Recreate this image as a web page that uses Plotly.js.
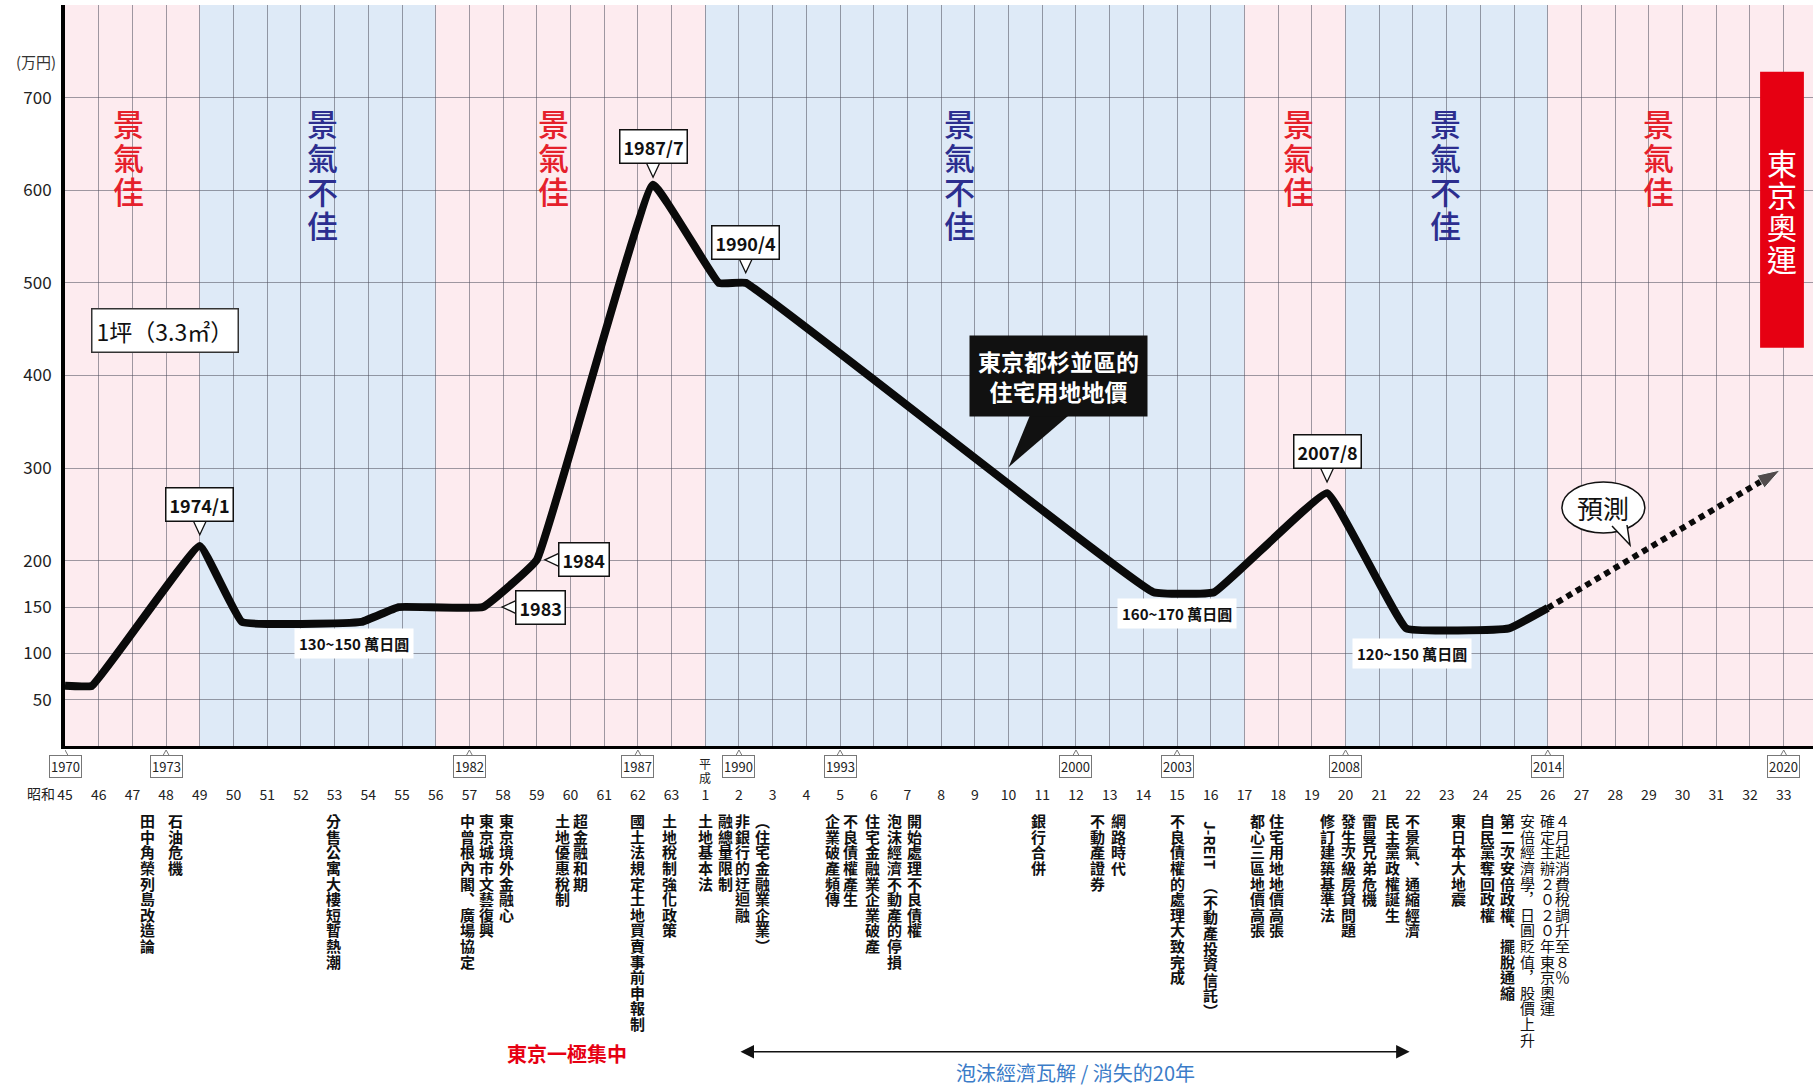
<!DOCTYPE html>
<html><head><meta charset="utf-8">
<script src="https://cdn.plot.ly/plotly-3.0.1.min.js"></script>
<style>html,body{margin:0;padding:0;background:#fff;}#chart{width:1813px;height:1088px;}</style>
</head><body><div id="chart"></div>
<script>
const CJK = '"Noto Sans CJK TC","Noto Sans CJK JP",sans-serif';
const NUM = '"Liberation Sans Narrow","Noto Sans CJK TC",sans-serif';

// x = year index (0 = 1970 / 昭和45)
const priceX = [0, 0.8, 4, 5.25, 8.8, 9.9, 12.4, 14, 17.45, 19.4, 20.2, 32.3, 34.1, 37.45, 39.8, 42.85, 44];
const priceY = [65, 65, 216, 134, 134, 150, 150, 201, 606, 500, 500, 166, 166, 273, 127, 127, 149];
const forecastX = [44, 50.9];
const forecastY = [149, 298];

const tickLabels = ['45','46','47','48','49','50','51','52','53','54','55','56','57','58','59','60','61','62','63',
  '1','2','3','4','5','6','7','8','9','10','11','12','13','14','15','16','17','18','19','20','21','22','23','24','25','26','27','28','29','30','31','32','33'];
const yTicks = [50, 100, 150, 200, 300, 400, 500, 600, 700];
const Y_MAX = 800;

const bandStart = [0, 4, 11, 19, 35, 38, 44];
const bandEnd = [4, 11, 19, 35, 38, 44, 52];
const bandGood = [true, false, true, false, true, false, true];

const moodX = [1.87, 7.63, 14.5, 26.55, 36.6, 40.95, 47.3];
const moodText = ['景氣佳', '景氣不佳', '景氣佳', '景氣不佳', '景氣佳', '景氣不佳', '景氣佳'];

const yearBoxX = [0, 3, 12, 17, 20, 23, 30, 33, 38, 44, 51];
const yearBoxText = ['1970', '1973', '1982', '1987', '1990', '1993', '2000', '2003', '2008', '2014', '2020'];

const peakLabel = ['1974/1', '1987/7', '1990/4', '2007/8'];
const peakX = [4, 17.45, 20.2, 37.45];
const peakTipY = [228, 614, 511, 285];

const sideLabel = ['1984', '1983'];
const sideX = [14.24, 12.97];
const sideY = [201, 150];

const rangeLabel = ['130~150 萬日圓', '160~170 萬日圓', '120~150 萬日圓'];
const rangeX = [8.58, 33.0, 39.97];
const rangeY = [111, 143, 100];

const eventX = [2.46, 3.29, 7.96, 11.93, 12.5, 13.1, 14.75, 15.3, 17.0, 17.95, 19.0, 19.6, 20.1, 20.7,
  22.77, 23.3, 23.95, 24.6, 25.2, 28.9, 30.65, 31.25, 33.0, 34.0, 35.4, 35.95, 37.45,
  38.1, 38.7, 39.4, 40.0, 41.35, 42.2, 42.8, 43.4, 44.0, 44.45];
const eventText = ['田中角榮列島改造論', '石油危機', '分售公寓大樓短暫熱潮', '中曾根內閣、廣場協定', '東京城市文藝復興',
  '東京境外金融心', '土地優惠稅制', '超金融和期', '國土法規定土地買賣事前申報制', '土地稅制強化政策', '土地基本法',
  '融總量限制', '非銀行的迂迴融', '（住宅金融業企業）', '企業破產頻傳', '不良債權產生', '住宅金融業企業破產',
  '泡沫經濟不動產的停損', '開始處理不良債權', '銀行合併', '不動產證券', '網路時代', '不良債權的處理大致完成',
  '（不動產投資信託）', '都心三區地價高張', '住宅用地地價高張', '修訂建築基準法', '發生次級房貸問題', '雷曼兄弟危機',
  '民主黨政權誕生', '不景氣、通縮經濟', '東日本大地震', '自民黨奪回政權', '第二次安倍政權、擺脫通縮',
  '安倍經濟學，日圓貶值，股價上升', '確定主辦２０２０年東京奧運', '４月起消費稅調升至８％'];
const eventPrefix = {23: 'J-REIT'};
const eventLight = [34, 35, 36];

const vertForm = {'（': '︵', '）': '︶', '、': '︑', '，': '︐'};

const annotations = [];
const shapes = [];
// values below the axis are placed through paper coordinates (same scale as y: 0..Y_MAX)
const yp = v => v / Y_MAX;

function vtext(x, yTop, str, pitch, font, below) {
  Array.from(str).forEach((ch, i) => {
    annotations.push({x: x, y: below ? yp(yTop) : yTop, xref: 'x', yref: below ? 'paper' : 'y', text: vertForm[ch] || ch, showarrow: false,
      xanchor: 'center', yanchor: 'middle', yshift: -(pitch / 2 + i * pitch), font: font});
  });
}

// bands
bandStart.forEach((s, i) => {
  shapes.push({type: 'rect', xref: 'x', yref: 'paper', x0: s, x1: bandEnd[i], y0: 0, y1: 1, layer: 'below',
    fillcolor: bandGood[i] ? '#fdebef' : '#deeaf7', line: {width: 0}});
});

// mood labels
moodText.forEach((t, i) => {
  const good = t === '景氣佳';
  vtext(moodX[i], 692, t, 34, {family: CJK, size: 31, color: good ? '#e5202b' : '#2c2e8f', weight: 500});
});

// Tokyo Olympics box
shapes.push({type: 'rect', xref: 'x', yref: 'y', x0: 50.3, x1: 51.6, y0: 430, y1: 728, fillcolor: '#e60012', line: {width: 0}, layer: 'above'});
vtext(50.95, 648, '東京奧運', 32, {family: CJK, size: 30, color: '#ffffff'});

// y unit
annotations.push({x: 0, y: 739, xref: 'x', yref: 'y', xanchor: 'right', yanchor: 'middle', xshift: -7, text: '(万円)', showarrow: false,
  font: {family: CJK, size: 15, color: '#333'}});
// 1坪
annotations.push({x: 2.97, y: 449, xref: 'x', yref: 'y', xanchor: 'center', yanchor: 'middle', text: '1坪（3.3㎡）', showarrow: false, bgcolor: '#fff',
  bordercolor: '#333', borderwidth: 1.5, borderpad: 4, font: {family: CJK, size: 23, color: '#111'}});

// peak callouts
peakLabel.forEach((t, i) => {
  shapes.push({type: 'path', xref: 'x', yref: 'y', xsizemode: 'pixel', ysizemode: 'pixel', xanchor: peakX[i], yanchor: peakTipY[i],
    path: 'M-7,15 L0,0 L7,15', fillcolor: '#fff', line: {color: '#111', width: 1.3}, layer: 'above'});
  annotations.push({x: peakX[i], y: peakTipY[i], xref: 'x', yref: 'y', xanchor: 'center', yanchor: 'bottom', yshift: 13, text: t, showarrow: false,
    bgcolor: '#fff', bordercolor: '#111', borderwidth: 1.5, borderpad: 3, font: {family: NUM, size: 18, color: '#111', weight: 'bold'}});
});
sideLabel.forEach((t, i) => {
  shapes.push({type: 'path', xref: 'x', yref: 'y', xsizemode: 'pixel', ysizemode: 'pixel', xanchor: sideX[i], yanchor: sideY[i],
    path: 'M15,-7 L0,0 L15,7', fillcolor: '#fff', line: {color: '#111', width: 1.3}, layer: 'above'});
  annotations.push({x: sideX[i], y: sideY[i], xref: 'x', yref: 'y', xanchor: 'left', yanchor: 'middle', xshift: 13, text: t, showarrow: false,
    bgcolor: '#fff', bordercolor: '#111', borderwidth: 1.5, borderpad: 3, font: {family: NUM, size: 18, color: '#111', weight: 'bold'}});
});

// range labels
rangeLabel.forEach((t, i) => {
  annotations.push({x: rangeX[i], y: rangeY[i], xref: 'x', yref: 'y', xanchor: 'center', yanchor: 'middle', text: t, showarrow: false, bgcolor: '#fff', borderpad: 4,
    font: {family: NUM, size: 15, color: '#111', weight: 'bold'}});
});

// black callout
shapes.push({type: 'path', xref: 'x', yref: 'y', xsizemode: 'pixel', ysizemode: 'pixel', xanchor: 28.0, yanchor: 301,
  path: 'M0,0 L23,56 L65,56 Z', fillcolor: '#111', line: {width: 0}, layer: 'above'});
annotations.push({x: 29.47, y: 400, xref: 'x', yref: 'y', xanchor: 'center', yanchor: 'middle', text: '東京都杉並區的<br>住宅用地地價', showarrow: false,
  bgcolor: '#111', borderpad: 8, font: {family: CJK, size: 23, color: '#fff', weight: 'bold'}});

// 預測 bubble
shapes.push({type: 'circle', xref: 'x', yref: 'y', x0: 44.42, x1: 46.88, y0: 230, y1: 285, fillcolor: '#fff', line: {color: '#111', width: 1.5}, layer: 'above'});
shapes.push({type: 'path', xref: 'x', yref: 'y', xsizemode: 'pixel', ysizemode: 'pixel', xanchor: 46.44, yanchor: 217,
  path: 'M-18,19 L0,0 L-3,20', fillcolor: '#fff', line: {color: '#111', width: 1.5}, layer: 'above'});
annotations.push({x: 45.65, y: 258, xref: 'x', yref: 'y', xanchor: 'center', yanchor: 'middle', text: '預測', showarrow: false, font: {family: CJK, size: 26, color: '#111'}});

// year boxes below axis
yearBoxX.forEach((x, i) => {
  shapes.push({type: 'path', xref: 'x', yref: 'paper', xsizemode: 'pixel', ysizemode: 'pixel', xanchor: x, yanchor: 0,
    path: 'M-5,-13 L0,-4 L5,-13', fillcolor: '#fff', line: {color: '#777', width: 1}, layer: 'above'});
  annotations.push({x: x, y: yp(-22), xref: 'x', yref: 'paper', xanchor: 'center', yanchor: 'middle', text: yearBoxText[i], showarrow: false, bgcolor: '#fff',
    bordercolor: '#777', borderwidth: 1, borderpad: 1, font: {family: CJK, size: 13, color: '#222'}});
});
// era labels
annotations.push({x: 0, y: yp(-50.8), xref: 'x', yref: 'paper', xanchor: 'right', yanchor: 'middle', xshift: -8, text: '昭和', showarrow: false,
  font: {family: CJK, size: 14, color: '#222'}});
vtext(19, -10.8, '平成', 14, {family: CJK, size: 12, color: '#222'}, true);

// events (vertical text)
eventText.forEach((t, i) => {
  const light = eventLight.indexOf(i) >= 0;
  const font = {family: CJK, size: 15, color: '#111', weight: light ? 'normal' : 'bold'};
  let top = -72.3;
  if (eventPrefix[i]) {
    annotations.push({x: eventX[i], y: yp(-107), xref: 'x', yref: 'paper', xanchor: 'center', yanchor: 'middle', text: eventPrefix[i], textangle: 90, showarrow: false,
      font: font});
    top = -142.5;
  }
  vtext(eventX[i], top, t, 15.6, font, true);
});

// bottom notes
annotations.push({x: 14.9, y: yp(-331.5), xref: 'x', yref: 'paper', xanchor: 'center', yanchor: 'middle', text: '東京一極集中', showarrow: false,
  font: {family: CJK, size: 20, color: '#e60012', weight: 'bold'}});
annotations.push({x: 39.9, y: yp(-330), ax: 20.0, ay: yp(-330), xref: 'x', yref: 'paper', axref: 'x', ayref: 'paper', text: '', showarrow: true,
  arrowhead: 2, startarrowhead: 2, arrowside: 'end+start', arrowsize: 1.8, startarrowsize: 1.8, arrowwidth: 1.5, arrowcolor: '#111'});
annotations.push({x: 30.0, y: yp(-353), xref: 'x', yref: 'paper', xanchor: 'center', yanchor: 'middle', text: '泡沫經濟瓦解 / 消失的20年', showarrow: false,
  font: {family: CJK, size: 20, color: '#3b7cc8'}});

const traces = [
  {x: priceX, y: priceY, type: 'scatter', mode: 'lines', line: {color: '#0a0a0a', width: 8, shape: 'spline', smoothing: 0.25}, hoverinfo: 'skip'},
  {x: forecastX, y: forecastY, type: 'scatter', mode: 'lines+markers', line: {color: '#0a0a0a', width: 6, dash: '6px,5px'},
    marker: {symbol: 'arrow', angleref: 'previous', size: [0, 24], color: '#0a0a0a'}, hoverinfo: 'skip'}
];

const layout = {
  width: 1813, height: 1088,
  margin: {l: 65, r: 0, t: 5, b: 342},
  paper_bgcolor: '#fff', plot_bgcolor: '#fff',
  showlegend: false,
  xaxis: {range: [0, 51.87], tickvals: tickLabels.map((_, i) => i), ticktext: tickLabels,
    showgrid: true, gridcolor: 'rgba(80,80,95,0.55)', gridwidth: 1, zeroline: false,
    showline: true, linecolor: '#000', linewidth: 3, ticks: 'outside', ticklen: 34, tickcolor: 'rgba(0,0,0,0)',
    tickfont: {family: CJK, size: 14, color: '#222'}, fixedrange: true},
  yaxis: {range: [0, Y_MAX], tickvals: yTicks, showgrid: true, gridcolor: 'rgba(80,80,95,0.55)', gridwidth: 1,
    zeroline: false, showline: true, linecolor: '#000', linewidth: 4, ticks: 'outside', ticklen: 6, tickcolor: 'rgba(0,0,0,0)',
    tickfont: {family: CJK, size: 17, color: '#222'}, fixedrange: true},
  shapes: shapes,
  annotations: annotations
};

Plotly.newPlot('chart', traces, layout, {displayModeBar: false, staticPlot: true});
</script></body></html>
